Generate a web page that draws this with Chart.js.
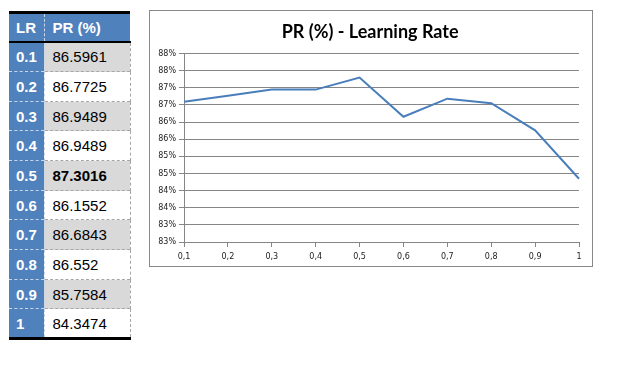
<!DOCTYPE html>
<html>
<head>
<meta charset="utf-8">
<script src="https://cdn.jsdelivr.net/npm/chart.js@4.4.0/dist/chart.umd.min.js"></script>
<style>
  body { margin: 0; background: #fff; width: 619px; height: 370px; position: relative; overflow: hidden; }
  #tbl {
    position: absolute; left: 9px; top: 11px;
    border-collapse: collapse;
    font-family: "Liberation Sans Narrow", "Liberation Sans", sans-serif;
    font-size: 15px;
    border-top: 3px solid #000;
    border-bottom: 3px solid #000;
  }
  #tbl td { padding: 0 0 0 8px; vertical-align: middle; box-sizing: border-box; }
  #tbl td.lr { width: 35px; background: #4F81BD; color: #fff; font-weight: bold; padding-left: 7px;
    border-right: 1px dashed #c9d6ea; border-top: 1px dashed #c9d6ea; }
  #tbl td.pr { width: 86px; color: #000; border-top: 1px dashed #a6a6a6; border-right: 1px dashed #a6a6a6; }
  #tbl tr.head td { height: 29px; background: #4F81BD; color: #fff; font-weight: bold; border-top: none; }
  #tbl tr.head td.pr { border-right: none; }
  #tbl tr.first td { border-top: 2px solid #000; }
  #tbl tr.even td.pr { background: #D9D9D9; }
  #tbl tr.best td.pr { font-weight: bold; }
  #box { position: absolute; left: 149px; top: 10px; width: 442px; height: 255px; border: 1px solid #888; }
</style>
</head>
<body>
<table id="tbl"></table>
<div id="box"><canvas id="chart" width="442" height="255"></canvas></div>
<script>
  // data
  const lrLabels = ['0.1', '0.2', '0.3', '0.4', '0.5', '0.6', '0.7', '0.8', '0.9', '1']
  const axisLabels = ['0,1', '0,2', '0,3', '0,4', '0,5', '0,6', '0,7', '0,8', '0,9', '1']
  const prValues = [86.5961, 86.7725, 86.9489, 86.9489, 87.3016, 86.1552, 86.6843, 86.552, 85.7584, 84.3474]
  const bestIndex = 4

  // table
  const tbl = document.getElementById('tbl')
  let html = '<tr class="head"><td class="lr">LR</td><td class="pr">PR (%)</td></tr>'
  lrLabels.forEach((lr, i) => {
    const cls = [i % 2 === 0 ? 'even' : 'odd']
    if (i === 0) cls.push('first')
    if (i === bestIndex) cls.push('best')
    const h = (i % 3 === 2) ? 29 : 30
    html += '<tr class="' + cls.join(' ') + '" style="height:' + h + 'px"><td class="lr">' + lr +
      '</td><td class="pr">' + prValues[i] + '</td></tr>'
  })
  tbl.innerHTML = html

  // chart
  const ctx = document.getElementById('chart')
  const prChart = new Chart(ctx, {
    type: 'line',
    data: {
      labels: axisLabels,
      datasets: [{
        data: prValues,
        borderColor: '#4A7EBB',
        backgroundColor: 'transparent',
        borderWidth: 2,
        pointRadius: 0,
        tension: 0
      }]
    },
    options: {
      responsive: false,
      animation: false,
      layout: { padding: { left: 0, right: 13, top: 0, bottom: 0 } },
      plugins: {
        legend: { display: false },
        tooltip: { enabled: false },
        title: {
          display: true,
          // leading en + thin space nudges the centred title a few px right, like the original
          text: '\u2002\u2009PR (%) - Learning Rate',
          color: '#000',
          font: { family: 'Lato', size: 18, weight: 'bold' },
          padding: { top: 10, bottom: 11 }
        }
      },
      scales: {
        x: {
          offset: false,
          grid: { display: true, drawOnChartArea: false, drawTicks: true, tickLength: 5, color: '#868686' },
          border: { display: true, color: '#868686', width: 1 },
          ticks: { color: '#222', font: { family: 'DejaVu Sans', size: 8 }, padding: 5, maxRotation: 0, autoSkip: false },
          afterFit: (scale) => { scale.height = 24 }
        },
        y: {
          min: 82.5,
          max: 88,
          grid: { color: '#868686', tickLength: 5 },
          border: { display: true, color: '#868686', width: 1 },
          ticks: {
            stepSize: 0.5,
            color: '#222',
            padding: 3,
            font: { family: 'DejaVu Sans', size: 8 },
            callback: (v) => Math.round(v) + '%'
          },
          afterFit: (scale) => { scale.width = 34 }
        }
      }
    }
  })
</script>
</body>
</html>
